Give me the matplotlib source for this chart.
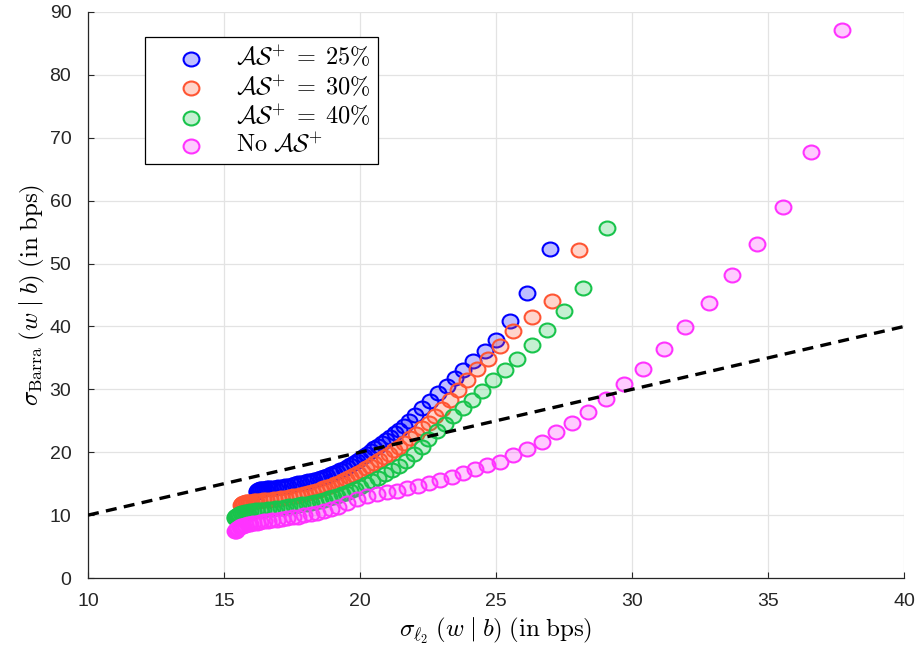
import numpy as np
import matplotlib.pyplot as plt
from matplotlib.colors import to_rgba
from matplotlib.path import Path
from matplotlib.transforms import Affine2D

plt.rcParams['mathtext.fontset'] = 'cm'
plt.rcParams['font.family'] = ['Liberation Sans', 'DejaVu Sans']

# values
blue_x = [16.20, 16.21, 16.23, 16.25, 16.28, 16.32, 16.37, 16.43, 16.50, 16.58,
          16.67, 16.77, 16.88, 17.00, 17.12, 17.24, 17.36, 17.48, 17.60, 17.72,
          17.84, 17.96, 18.08, 18.20, 18.32, 18.44, 18.56, 18.68, 18.80, 18.92,
          19.04, 19.16, 19.28, 19.40, 19.52, 19.64, 19.76, 19.88, 20.00, 20.13,
          20.26, 20.39, 20.53, 20.67, 20.81, 20.96, 21.11, 21.27, 21.43, 21.60,
          21.80, 22.02, 22.27, 22.57, 22.88, 23.19, 23.49, 23.80, 24.17, 24.60,
          25.00, 25.51, 26.13, 26.99]
blue_y = [13.70, 13.80, 13.90, 13.97, 14.03, 14.08, 14.12, 14.16, 14.20, 14.24,
          14.28, 14.33, 14.38, 14.45, 14.53, 14.62, 14.71, 14.82, 14.93, 15.04,
          15.15, 15.26, 15.38, 15.50, 15.62, 15.77, 15.92, 16.09, 16.27, 16.46,
          16.66, 16.87, 17.10, 17.34, 17.62, 17.92, 18.24, 18.58, 18.95, 19.35,
          19.75, 20.15, 20.60, 21.05, 21.50, 22.00, 22.50, 23.05, 23.60, 24.20,
          24.95, 25.90, 27.10, 28.20, 29.40, 30.50, 31.80, 33.00, 34.50, 36.10,
          37.90, 40.90, 45.30, 52.30]

red_x = [15.64, 15.65, 15.67, 15.70, 15.74, 15.79, 15.85, 15.92, 16.00, 16.09,
         16.19, 16.30, 16.42, 16.55, 16.69, 16.83, 16.97, 17.11, 17.25, 17.39,
         17.53, 17.67, 17.81, 17.95, 18.09, 18.23, 18.37, 18.51, 18.65, 18.79,
         18.93, 19.07, 19.21, 19.35, 19.49, 19.63, 19.77, 19.91, 20.06, 20.21,
         20.37, 20.53, 20.70, 20.87, 21.05, 21.24, 21.43, 21.63, 21.84, 22.06,
         22.29, 22.52, 22.76, 23.00, 23.31, 23.61, 23.92, 24.31, 24.72, 25.15,
         25.64, 26.31, 27.07, 28.05]
red_y = [11.60, 11.72, 11.82, 11.90, 11.97, 12.03, 12.08, 12.12, 12.16, 12.20,
         12.24, 12.28, 12.33, 12.38, 12.45, 12.52, 12.60, 12.69, 12.79, 12.89,
         13.00, 13.12, 13.25, 13.39, 13.54, 13.70, 13.87, 14.05, 14.25, 14.46,
         14.68, 14.92, 15.18, 15.45, 15.74, 16.05, 16.38, 16.72, 17.08, 17.45,
         17.85, 18.27, 18.72, 19.20, 19.72, 20.28, 20.88, 21.50, 22.20, 22.95,
         23.80, 24.70, 25.70, 26.80, 28.30, 29.90, 31.50, 33.20, 34.90, 36.90,
         39.20, 41.50, 44.10, 52.20]

green_x = [15.40, 15.41, 15.43, 15.46, 15.50, 15.55, 15.61, 15.68, 15.76, 15.85,
           15.95, 16.06, 16.18, 16.31, 16.45, 16.60, 16.76, 16.92, 17.08, 17.24,
           17.40, 17.56, 17.72, 17.88, 18.04, 18.20, 18.36, 18.52, 18.68, 18.84,
           19.00, 19.16, 19.32, 19.48, 19.64, 19.81, 20.01, 20.22, 20.44, 20.67,
           20.91, 21.16, 21.42, 21.69, 21.97, 22.27, 22.51, 22.82, 23.13, 23.43,
           23.78, 24.10, 24.47, 24.90, 25.33, 25.76, 26.31, 26.89, 27.51, 28.21,
           29.09]
green_y = [9.50, 9.65, 9.80, 9.93, 10.05, 10.16, 10.26, 10.35, 10.44, 10.52,
           10.60, 10.67, 10.74, 10.81, 10.88, 10.95, 11.03, 11.11, 11.19, 11.28,
           11.38, 11.48, 11.59, 11.71, 11.84, 11.98, 12.13, 12.29, 12.46, 12.65,
           12.85, 13.07, 13.30, 13.55, 13.82, 14.12, 14.50, 14.92, 15.40, 15.92,
           16.50, 17.15, 17.85, 18.60, 19.75, 20.90, 22.10, 23.30, 24.50, 25.80,
           27.00, 28.30, 29.80, 31.50, 33.10, 34.90, 37.00, 39.50, 42.50, 46.10,
           55.60]

pink_x = [15.42, 15.43, 15.45, 15.48, 15.52, 15.57, 15.63, 15.70, 15.78, 15.87,
          15.97, 16.08, 16.20, 16.33, 16.47, 16.62, 16.78, 16.95, 17.13, 17.32,
          17.52, 17.73, 17.95, 18.18, 18.42, 18.67, 18.93, 19.20, 19.52, 19.88,
          20.24, 20.61, 20.98, 21.35, 21.74, 22.14, 22.55, 22.94, 23.37, 23.80,
          24.23, 24.66, 25.15, 25.64, 26.13, 26.68, 27.19, 27.78, 28.39, 29.03,
          29.71, 30.40, 31.16, 31.96, 32.81, 33.69, 34.61, 35.56, 36.59, 37.71]
pink_y = [7.40, 7.55, 7.70, 7.84, 7.97, 8.10, 8.22, 8.33, 8.44, 8.54,
          8.63, 8.72, 8.81, 8.90, 8.99, 9.08, 9.18, 9.28, 9.39, 9.51,
          9.64, 9.78, 9.95, 10.15, 10.38, 10.64, 10.95, 11.30, 11.85, 12.55,
          13.00, 13.30, 13.65, 13.90, 14.30, 14.70, 15.10, 15.60, 16.10, 16.70,
          17.30, 17.90, 18.50, 19.50, 20.50, 21.60, 23.20, 24.60, 26.40, 28.50,
          30.80, 33.30, 36.40, 39.90, 43.70, 48.20, 53.10, 59.00, 67.80, 87.10]

ref_x = [10, 40]

series = [
    (blue_x, blue_y, '#0000ff', r'$\mathcal{AS}^{+}\;=\;25\%$'),
    (red_x, red_y, '#ff5533', r'$\mathcal{AS}^{+}\;=\;30\%$'),
    (green_x, green_y, '#19c44c', r'$\mathcal{AS}^{+}\;=\;40\%$'),
    (pink_x, pink_y, '#ff33ff', r'$\mathrm{No}\ \mathcal{AS}^{+}$'),
]

# slightly flattened circle, like the reference markers
oval = Affine2D().scale(1.0, 0.88).transform_path(Path.unit_circle())

fig = plt.figure(figsize=(9.19, 6.48), dpi=100)
ax = fig.add_axes([0.0958, 0.108, 0.888, 0.8735])

for xs, ys, col, lab in series:
    ax.scatter(xs, ys, s=130, marker=oval, facecolors=[to_rgba(col, 0.25)],
               edgecolors=col, linewidths=1.5, label=lab, zorder=3)

ax.plot(ref_x, ref_x, color='black', linestyle=(0, (3.3, 2.2)), linewidth=2.4, zorder=4)

ax.set_xlim(10, 40)
ax.set_ylim(0, 90)
ax.set_xticks(np.arange(10, 41, 5))
ax.set_yticks(np.arange(0, 91, 10))
ax.grid(True, color='#e3e3e3', linewidth=0.9)
ax.set_axisbelow(True)
ax.tick_params(direction='in', length=4, labelsize=14, colors='#262626')
ax.tick_params(axis='x', pad=11)
ax.tick_params(axis='y', pad=12)
for side in ['top', 'right']:
    ax.spines[side].set_visible(False)
for side in ['left', 'bottom']:
    ax.spines[side].set_color('#262626')
    ax.spines[side].set_linewidth(0.9)

ax.set_xlabel(r'$\sigma_{\ell_2}\;(w\;|\;b)\;\mathrm{(in\;bps)}$', fontsize=18, labelpad=4)
ax.set_ylabel(r'$\sigma_{\mathrm{Barra}}\;(w\;|\;b)\;\mathrm{(in\;bps)}$', fontsize=18, labelpad=2)

leg = ax.legend(loc='upper left', bbox_to_anchor=(0.0699, 0.956), fontsize=17.5,
                frameon=True, fancybox=False, edgecolor='black', framealpha=1,
                handlelength=3.2, handletextpad=0.25, borderpad=0.3,
                labelspacing=0.15, borderaxespad=0)
leg.get_frame().set_linewidth(0.9)

fig.savefig('out.png', dpi=100)
